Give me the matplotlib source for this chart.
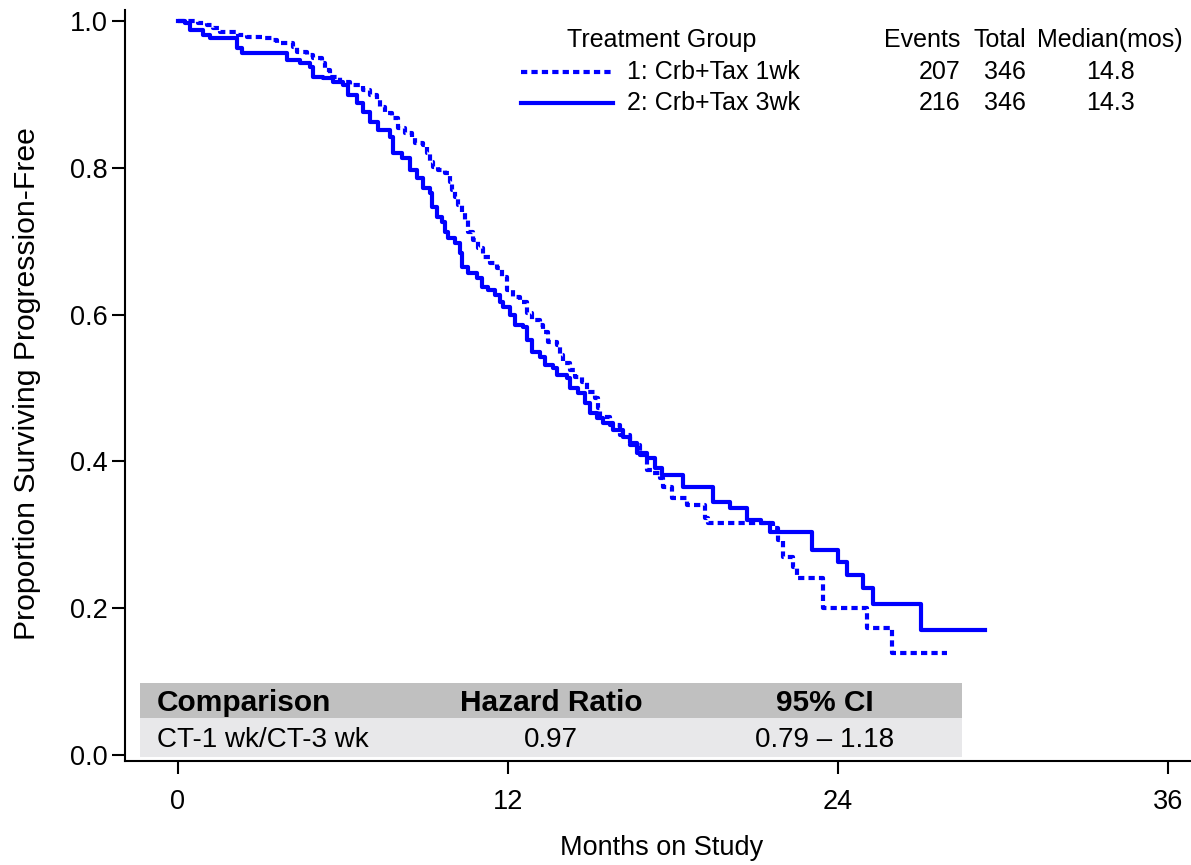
import matplotlib
matplotlib.use("Agg")
import matplotlib.pyplot as plt
from matplotlib.patches import Rectangle

plt.rcParams['font.family'] = ['Liberation Sans', 'DejaVu Sans']

# Kaplan-Meier step points (months, proportion progression-free)
t_1wk = [0, 0.73, 1.05, 1.27, 1.53, 2.18, 2.51, 3.16, 3.42, 3.60, 4.18, 4.33,
         4.69, 4.91, 5.24, 5.35, 5.53, 5.89, 6.25, 6.73, 6.98, 7.24, 7.35,
         7.53, 7.78, 8.00, 8.25, 8.51, 8.62, 8.91, 9.05, 9.16, 9.27, 9.45,
         9.71, 9.89, 9.96, 10.07, 10.18, 10.33, 10.44, 10.55, 10.73, 10.91,
         11.09, 11.35, 11.60, 11.78, 11.96, 12.18, 12.44, 12.69, 12.87, 13.16,
         13.27, 13.45, 13.78, 13.89, 14.00, 14.25, 14.44, 14.69, 14.87, 15.16,
         15.27, 15.35, 15.71, 16.07, 16.44, 16.80, 17.05, 17.27, 17.53, 17.64,
         17.96, 18.51, 19.16, 19.27, 21.64, 21.82, 22.00, 22.36, 22.51, 23.45,
         25.05, 25.96, 27.96]
s_1wk = [1.0, 0.997, 0.995, 0.990, 0.985, 0.981, 0.978, 0.977, 0.974, 0.970,
         0.965, 0.958, 0.954, 0.950, 0.943, 0.933, 0.924, 0.917, 0.913, 0.906,
         0.899, 0.892, 0.883, 0.875, 0.868, 0.854, 0.847, 0.842, 0.834, 0.831,
         0.820, 0.808, 0.801, 0.797, 0.793, 0.781, 0.770, 0.760, 0.749, 0.740,
         0.729, 0.713, 0.702, 0.691, 0.678, 0.670, 0.663, 0.651, 0.634, 0.624,
         0.617, 0.602, 0.593, 0.586, 0.576, 0.563, 0.559, 0.545, 0.534, 0.525,
         0.515, 0.508, 0.495, 0.486, 0.473, 0.460, 0.450, 0.436, 0.422, 0.409,
         0.388, 0.384, 0.377, 0.365, 0.350, 0.341, 0.323, 0.316, 0.309, 0.293,
         0.270, 0.256, 0.241, 0.200, 0.173, 0.139, 0.139]

t_3wk = [0, 0.25, 0.44, 0.91, 1.16, 2.15, 2.33, 3.96, 4.44, 4.80, 4.91, 5.27,
         5.64, 6.00, 6.18, 6.51, 6.73, 6.98, 7.27, 7.71, 7.82, 8.15, 8.44,
         8.69, 8.91, 9.16, 9.24, 9.42, 9.60, 9.71, 9.82, 10.07, 10.25, 10.33,
         10.55, 10.87, 11.05, 11.27, 11.53, 11.71, 11.82, 12.07, 12.25, 12.55,
         12.69, 12.87, 13.16, 13.35, 13.64, 13.78, 14.15, 14.25, 14.55, 14.80,
         14.98, 15.24, 15.45, 15.82, 16.18, 16.44, 16.69, 17.05, 17.35, 17.60,
         18.36, 19.45, 20.07, 20.69, 21.20, 21.53, 23.05, 24.00, 24.33, 24.91,
         25.27, 27.02, 29.35]
s_3wk = [1.0, 0.997, 0.988, 0.981, 0.977, 0.963, 0.956, 0.947, 0.943, 0.937,
         0.924, 0.922, 0.917, 0.913, 0.899, 0.888, 0.876, 0.862, 0.851, 0.842,
         0.820, 0.813, 0.797, 0.786, 0.772, 0.766, 0.747, 0.733, 0.726, 0.713,
         0.704, 0.698, 0.684, 0.665, 0.657, 0.650, 0.638, 0.634, 0.627, 0.617,
         0.610, 0.599, 0.586, 0.583, 0.565, 0.549, 0.542, 0.531, 0.527, 0.518,
         0.514, 0.500, 0.493, 0.480, 0.466, 0.459, 0.452, 0.443, 0.433, 0.425,
         0.411, 0.405, 0.391, 0.381, 0.365, 0.345, 0.337, 0.320, 0.316, 0.304,
         0.279, 0.263, 0.245, 0.228, 0.206, 0.170, 0.170]

groups = ['1: Crb+Tax 1wk', '2: Crb+Tax 3wk']
events = [207, 216]
totals = [346, 346]
medians = [14.8, 14.3]

hr_header = ['Comparison', 'Hazard Ratio', '95% CI']
hr_row = ['CT-1 wk/CT-3 wk', '0.97', '0.79 \u2013 1.18']

W, H = 1191, 865
fig = plt.figure(figsize=(W / 100, H / 100), dpi=100)
ax = fig.add_axes([125 / W, (H - 761) / H, (W - 125) / W, (761 - 10) / H])


def fx(x):
    return x / W


def fy(y):
    return 1 - y / H


blue = '#0000ff'
ax.plot(t_1wk, s_1wk, drawstyle='steps-post', color=blue, lw=3,
        linestyle=(0, (1.5, 1.0)))
ax.plot(t_3wk, s_3wk, drawstyle='steps-post', color=blue, lw=3)

ax.set_xlim(-1.927, 36.836)
ax.set_ylim(-0.0082, 1.015)
ax.set_xticks([0, 12, 24, 36])
ax.set_yticks([0.0, 0.2, 0.4, 0.6, 0.8, 1.0])
ax.set_yticklabels(['0.0', '0.2', '0.4', '0.6', '0.8', '1.0'])
for side in ['top', 'right']:
    ax.spines[side].set_visible(False)
for side in ['left', 'bottom']:
    ax.spines[side].set_linewidth(1.5)
ax.tick_params(axis='both', length=9.5, width=1.5, labelsize=19.5)
ax.tick_params(axis='x', pad=11)
ax.tick_params(axis='y', pad=3)

fig.text(fx(662), fy(848), 'Months on Study', fontsize=19.5,
         ha='center', va='center')
fig.text(fx(27), fy(384), 'Proportion Surviving Progression-Free',
         fontsize=21.7, rotation=90, ha='center', va='center')

# legend block with event counts and medians
fs = 18
fig.text(fx(662), fy(40), 'Treatment Group', fontsize=fs, ha='center', va='center')
fig.text(fx(960), fy(40), 'Events', fontsize=fs, ha='right', va='center')
fig.text(fx(1026), fy(40), 'Total', fontsize=fs, ha='right', va='center')
fig.text(fx(1110), fy(40), 'Median(mos)', fontsize=fs, ha='center', va='center')
styles = [(0, (1.5, 1.0)), '-']
for i, yrow in enumerate([72, 103]):
    ax.plot([fx(521), fx(613)], [fy(yrow), fy(yrow)], transform=fig.transFigure,
            color=blue, lw=3, linestyle=styles[i], clip_on=False)
    fig.text(fx(627), fy(yrow), groups[i], fontsize=fs, ha='left', va='center')
    fig.text(fx(960), fy(yrow), str(events[i]), fontsize=fs, ha='right', va='center')
    fig.text(fx(1026), fy(yrow), str(totals[i]), fontsize=fs, ha='right', va='center')
    fig.text(fx(1111), fy(yrow), f'{medians[i]:.1f}', fontsize=fs,
             ha='center', va='center')

# hazard ratio table
fig.add_artist(Rectangle((fx(140), fy(718)), fx(962 - 140), 35 / H,
                         transform=fig.transFigure, color='#c0c0c0', lw=0))
fig.add_artist(Rectangle((fx(140), fy(757)), fx(962 - 140), 39 / H,
                         transform=fig.transFigure, color='#e8e8ea', lw=0))
col_x = [157, 551, 825]
col_ha = ['left', 'center', 'center']
for j in range(3):
    fig.text(fx(col_x[j]), fy(703), hr_header[j], fontsize=21.5,
             fontweight='bold', ha=col_ha[j], va='center')
    fig.text(fx(col_x[j]), fy(740), hr_row[j], fontsize=20,
             ha=col_ha[j], va='center')

fig.savefig('out.png', dpi=100, facecolor='white')
